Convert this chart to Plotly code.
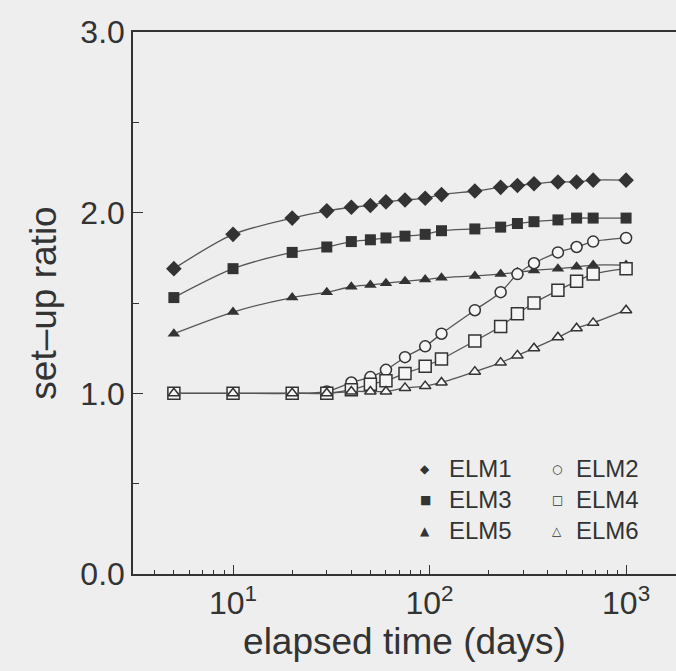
import plotly.graph_objects as go

# Elapsed time of each measurement (days)
days = [5, 10, 20, 30, 40, 50, 60, 75, 95, 115, 170, 230, 280, 340, 450, 560, 680, 1000]

# Set-up ratio of each element
elm1 = [1.69, 1.88, 1.97, 2.01, 2.03, 2.04, 2.06, 2.07, 2.08, 2.10, 2.12, 2.14, 2.15, 2.16, 2.17, 2.17, 2.18, 2.18]
elm3 = [1.53, 1.69, 1.78, 1.81, 1.84, 1.85, 1.86, 1.87, 1.88, 1.90, 1.91, 1.92, 1.94, 1.95, 1.96, 1.97, 1.97, 1.97]
elm5 = [1.33, 1.45, 1.53, 1.56, 1.59, 1.60, 1.61, 1.62, 1.63, 1.64, 1.65, 1.66, 1.67, 1.68, 1.69, 1.70, 1.71, 1.71]
elm2 = [1.00, 1.00, 1.00, 1.01, 1.06, 1.09, 1.13, 1.20, 1.26, 1.33, 1.46, 1.56, 1.66, 1.72, 1.78, 1.81, 1.84, 1.86]
elm4 = [1.00, 1.00, 1.00, 1.00, 1.02, 1.05, 1.07, 1.11, 1.15, 1.19, 1.29, 1.37, 1.44, 1.50, 1.57, 1.62, 1.66, 1.69]
elm6 = [1.00, 1.00, 1.00, 1.00, 1.01, 1.01, 1.01, 1.03, 1.04, 1.06, 1.12, 1.17, 1.21, 1.25, 1.31, 1.36, 1.39, 1.46]

x_tickvals = [10, 100, 1000]
x_ticktext = ["10<sup>1</sup>", "10<sup>2</sup>", "10<sup>3</sup>"]
y_tickvals = [0, 1, 2, 3]

BG = "#eeeeee"
INK = "#333333"
LINE = "#555555"
FONT = "Liberation Sans, Arial, sans-serif"
SYMFONT = "DejaVu Sans"

series = [
    ("ELM1", elm1, "diamond", 12, True),
    ("ELM3", elm3, "square", 11, True),
    ("ELM5", elm5, "triangle-up", 11, True),
    ("ELM2", elm2, "circle", 11, False),
    ("ELM4", elm4, "square", 12, False),
    ("ELM6", elm6, "triangle-up", 10, False),
]

fig = go.Figure()
for name, vals, sym, size, filled in series:
    fig.add_trace(go.Scatter(
        x=days, y=vals, name=name, mode="lines+markers",
        line=dict(color=LINE, width=1.3, shape="spline", smoothing=0.8),
        marker=dict(symbol=sym, size=size,
                    color=INK if filled else "#f5f5f5",
                    line=dict(color=INK, width=0 if filled else 1.5)),
        showlegend=False,
    ))

# Two-column key in the lower right of the plot
key = [
    ("◆", "ELM1", 0, 0), ("○", "ELM2", 1, 0),
    ("■", "ELM3", 0, 1), ("□", "ELM4", 1, 1),
    ("▲", "ELM5", 0, 2), ("△", "ELM6", 1, 2),
]
glyph_x = [0.538, 0.781]
label_x = [0.578, 0.812]
row_y = [0.194, 0.137, 0.080]
for glyph, label, c, r in key:
    fig.add_annotation(
        xref="paper", yref="paper", x=glyph_x[c], y=row_y[r],
        xanchor="center", yanchor="middle", showarrow=False,
        text=glyph, font=dict(family=SYMFONT, size=12, color=INK),
    )
    fig.add_annotation(
        xref="paper", yref="paper", x=label_x[c], y=row_y[r],
        xanchor="left", yanchor="middle", showarrow=False,
        text=label, font=dict(family=FONT, size=24, color=INK),
    )

fig.update_layout(
    width=676, height=671,
    margin=dict(l=133, r=0, t=32, b=97),
    paper_bgcolor=BG, plot_bgcolor=BG,
    font=dict(family=FONT, color=INK),
)
fig.update_xaxes(
    type="log", range=[0.491, 3.254],
    showline=True, linecolor=INK, linewidth=1.5, mirror=True,
    showgrid=False, zeroline=False,
    ticks="inside", ticklen=9, tickwidth=1.3, tickcolor=INK,
    tickvals=x_tickvals, ticktext=x_ticktext,
    tickfont=dict(family=FONT, size=32, color=INK),
    minor=dict(ticks="inside", ticklen=4, tickwidth=1, tickcolor=INK,
               dtick="D1", showgrid=False),
    title=dict(text="elapsed time (days)", font=dict(family=FONT, size=37, color=INK),
               standoff=4),
)
fig.update_yaxes(
    range=[0, 3],
    showline=True, linecolor=INK, linewidth=1.5, mirror=False,
    showgrid=False, zeroline=False,
    ticks="inside", ticklen=10, tickwidth=1.3, tickcolor=INK,
    tickvals=y_tickvals, tickformat=".1f",
    tickfont=dict(family=FONT, size=32, color=INK),
    minor=dict(ticks="inside", ticklen=6, tickwidth=1, tickcolor=INK,
               dtick=0.5, showgrid=False),
    title=dict(text="set–up ratio", font=dict(family=FONT, size=37, color=INK),
               standoff=12),
)

fig.write_html("out.html")
